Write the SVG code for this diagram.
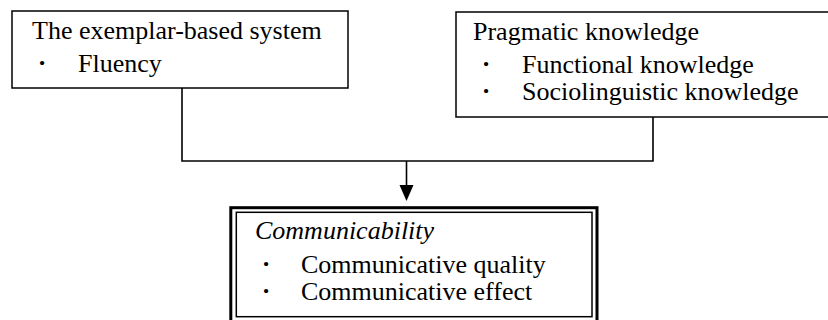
<svg xmlns="http://www.w3.org/2000/svg" width="828" height="320" viewBox="0 0 828 320">
  <style>
    .box { fill: #fff; stroke: #000; stroke-width: 1.5; }
    .frame { fill: none; stroke: #000; }
    text { font-family: 'Liberation Serif', 'Times New Roman', 'DejaVu Serif', serif; font-size: 26px; fill: #000; }
    .it { font-style: italic; }
    .dot { text-anchor: middle; font-weight: bold; }
    .wire { fill: none; stroke: #000; stroke-width: 1.6; }
  </style>

  <g id="connectors">
    <path class="wire" d="M182 88 V161 H653 V117"/>
    <line class="wire" x1="406.5" y1="161" x2="406.5" y2="186"/>
    <path d="M399.5 185 L413.5 185 L406.5 201 Z" fill="#000"/>
  </g>

  <g id="exemplar">
    <rect class="box" x="12" y="11" width="336" height="77"/>
    <text x="32" y="39">The exemplar-based system</text>
    <text class="dot" x="42" y="71">·</text>
    <text x="78" y="72">Fluency</text>
  </g>

  <g id="pragmatic">
    <rect class="box" x="456" y="12" width="380" height="105"/>
    <text x="473" y="40">Pragmatic knowledge</text>
    <text class="dot" x="486" y="72">·</text>
    <text x="522" y="73">Functional knowledge</text>
    <text class="dot" x="486" y="99">·</text>
    <text x="522" y="100">Sociolinguistic knowledge</text>
  </g>

  <g id="communicability">
    <rect class="frame" x="230.8" y="207.7" width="366.2" height="116" stroke-width="3"/>
    <rect class="frame" x="236.3" y="212.3" width="355.7" height="104.4" stroke-width="1.5"/>
    <text class="it" x="255" y="239">Communicability</text>
    <text class="dot" x="266" y="272">·</text>
    <text x="301" y="273">Communicative quality</text>
    <text class="dot" x="266" y="299">·</text>
    <text x="301" y="300">Communicative effect</text>
  </g>
</svg>
